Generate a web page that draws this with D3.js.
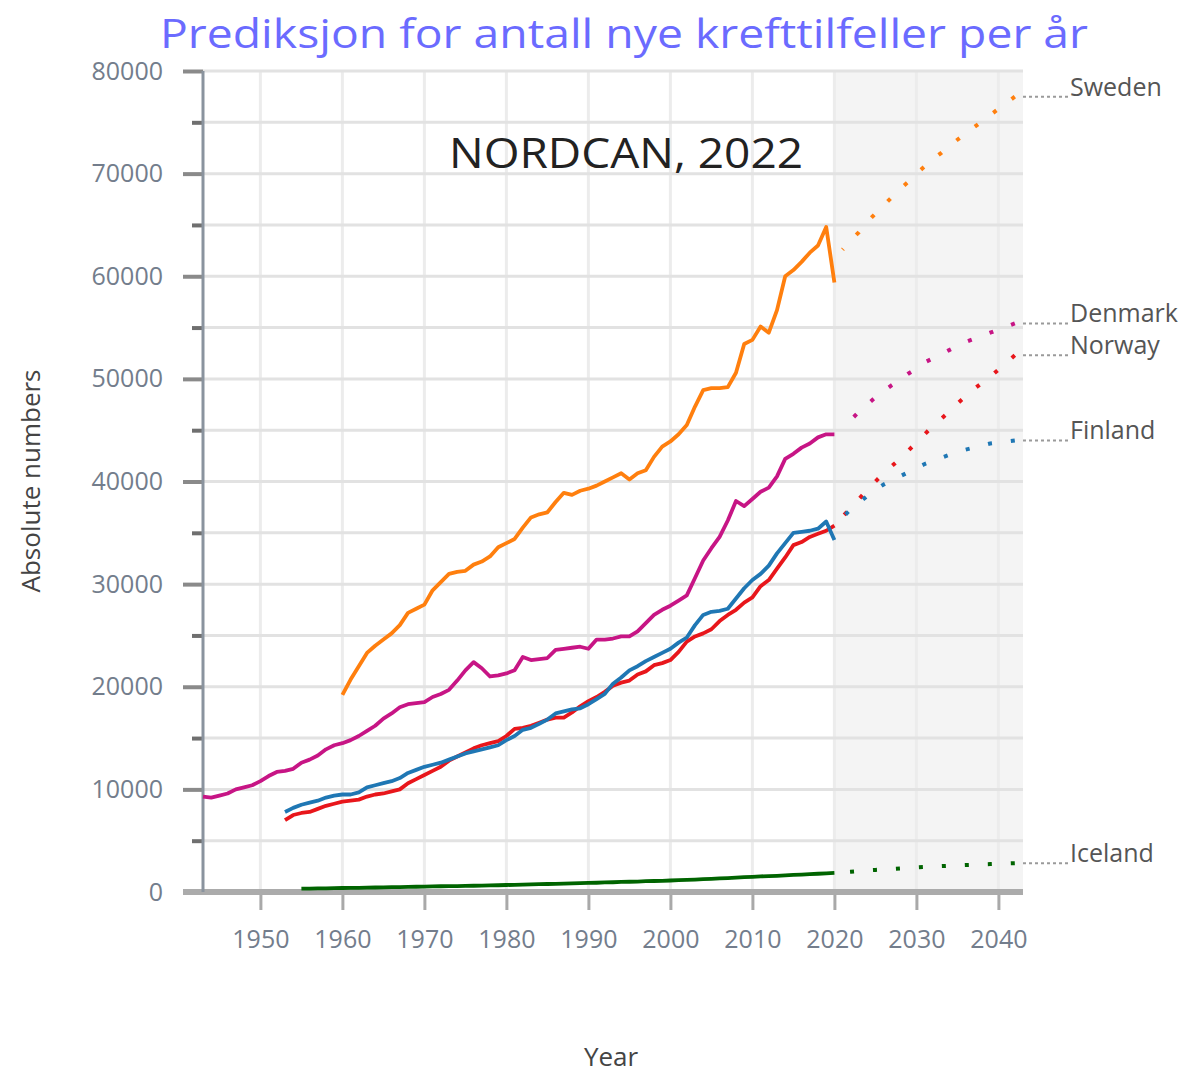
<!DOCTYPE html>
<html>
<head>
<meta charset="utf-8">
<script src="https://cdn.jsdelivr.net/npm/d3@7"></script>
<style>
  body { margin: 0; background: #fff; }
  svg { display: block; font-family: "Open Sans", sans-serif; }
</style>
</head>
<body>
<svg id="chart" width="1187" height="1076"></svg>
<script>
// Observed cases (NORDCAN), one value per year from the start year
const swedenStart = 1960;
const sweden = [19200, 20700, 22000, 23300, 24000, 24600, 25200, 26000, 27200, 27600,
    28000, 29400, 30200, 31000, 31200, 31300, 31900, 32200, 32700, 33600,
    34000, 34400, 35500, 36500, 36800, 37000, 38000, 38900, 38700, 39100,
    39300, 39600, 40000, 40400, 40800, 40200, 40800, 41100, 42400, 43400,
    43900, 44600, 45500, 47300, 48900, 49100, 49100, 49200, 50600, 53400,
    53800, 55100, 54500, 56700, 60000, 60600, 61400, 62300, 63000, 64800,
    59400];

const denmarkStart = 1943;
const denmark = [9300, 9200, 9400, 9600, 10000, 10200, 10400,
    10800, 11300, 11700, 11800, 12000, 12600, 12900, 13300, 13900, 14300,
    14500, 14800, 15200, 15700, 16200, 16900, 17400, 18000, 18300, 18400,
    18500, 19000, 19300, 19700, 20600, 21600, 22400, 21800, 21000, 21100,
    21300, 21600, 22900, 22600, 22700, 22800, 23600, 23700, 23800, 23900,
    23700, 24600, 24600, 24700, 24900, 24900, 25400, 26200, 27000, 27500,
    27900, 28400, 28900, 30600, 32300, 33500, 34600, 36200, 38100, 37600,
    38300, 39000, 39400, 40500, 42200, 42700, 43300, 43700, 44300, 44600,
    44600];

const norwayStart = 1953;
const norway = [7000, 7500, 7700, 7800, 8100, 8400, 8600,
    8800, 8900, 9000, 9300, 9500, 9600, 9800, 10000, 10600, 11000,
    11400, 11800, 12200, 12800, 13200, 13600, 14000, 14300, 14500, 14700,
    15200, 15900, 16000, 16200, 16500, 16800, 17000, 17000, 17500, 18100,
    18600, 19000, 19500, 20100, 20400, 20600, 21200, 21500, 22100, 22300,
    22600, 23400, 24400, 24900, 25200, 25600, 26400, 27000, 27500, 28200,
    28700, 29800, 30400, 31500, 32600, 33800, 34100, 34600, 34900, 35200,
    35700];

const finlandStart = 1953;
const finland = [7800, 8200, 8500, 8700, 8900, 9200, 9400,
    9500, 9500, 9700, 10200, 10400, 10600, 10800, 11100, 11600, 11900,
    12200, 12400, 12600, 12900, 13200, 13500, 13700, 13900, 14100, 14300,
    14800, 15200, 15800, 16000, 16400, 16800, 17400, 17600, 17800, 17900,
    18300, 18800, 19300, 20300, 20900, 21600, 22000, 22500, 22900, 23300,
    23700, 24300, 24800, 26000, 27000, 27300, 27400, 27600, 28600, 29600,
    30400, 31000, 31800, 33000, 34000, 35000, 35100, 35200, 35400, 36100,
    34300];

const icelandStart = 1955;
const iceland = [320, 330, 350, 360, 370,
    390, 400, 410, 430, 440, 460, 470, 480, 500, 510,
    530, 540, 560, 570, 580, 600, 610, 630, 640, 660,
    680, 700, 720, 740, 760, 780, 800, 820, 840, 860,
    880, 900, 930, 950, 980, 1000, 1020, 1050, 1070, 1090,
    1120, 1150, 1180, 1210, 1250, 1280, 1320, 1360, 1400, 1440,
    1480, 1520, 1550, 1580, 1620, 1660, 1700, 1740, 1780, 1820,
    1860];

// Predictions, one value per year from 2021
const projStart = 2021;
const swedenProj = [62600, 63500, 64300, 65300, 66100, 66900, 67700, 68500, 69200, 70000, 70700,
    71400, 72000, 72700, 73300, 73900, 74500, 75100, 75700, 76300, 76900, 77500];
const denmarkProj = [45300, 46000, 46800, 47500, 48200, 48800, 49400, 49900, 50500, 51000, 51600,
    52000, 52400, 52800, 53200, 53600, 53900, 54200, 54500, 54800, 55100, 55400];
const norwayProj = [36600, 37400, 38300, 39200, 40000, 40800, 41500, 42200, 43000, 43800, 44600,
    45400, 46100, 46800, 47600, 48300, 49000, 49600, 50200, 50900, 51600, 52300];
const finlandProj = [36500, 37300, 37900, 38600, 39200, 39700, 40100, 40500, 40900, 41300, 41700,
    42000, 42300, 42600, 42900, 43100, 43300, 43500, 43700, 43800, 43900, 44000];
const icelandProj = [1920, 1980, 2040, 2100, 2150, 2200, 2250, 2300, 2350, 2400, 2440,
    2480, 2520, 2560, 2600, 2630, 2660, 2690, 2720, 2750, 2780, 2810];

const countries = ["Sweden", "Denmark", "Norway", "Finland", "Iceland"];
const xTicks = [1950, 1960, 1970, 1980, 1990, 2000, 2010, 2020, 2030, 2040];
const yTicks = [0, 10000, 20000, 30000, 40000, 50000, 60000, 70000, 80000];
const yMinorTicks = [5000, 15000, 25000, 35000, 45000, 55000, 65000, 75000];
const forecastFrom = 2020;

const series = [
    { name: "Sweden", start: swedenStart, obs: sweden, proj: swedenProj },
    { name: "Denmark", start: denmarkStart, obs: denmark, proj: denmarkProj },
    { name: "Norway", start: norwayStart, obs: norway, proj: norwayProj },
    { name: "Finland", start: finlandStart, obs: finland, proj: finlandProj },
    { name: "Iceland", start: icelandStart, obs: iceland, proj: icelandProj }
].map(s => ({
    name: s.name,
    obs: s.obs.map((v, i) => [s.start + i, v]),
    proj: s.proj.map((v, i) => [projStart + i, v])
}));

const color = d3.scaleOrdinal()
    .domain(countries)
    .range(["#ff7f0e", "#c71585", "#e8161b", "#1f77b4", "#006400"]);

const svg = d3.select("#chart");
const x = d3.scaleLinear().domain([1943, 2043]).range([203, 1023]);
const y = d3.scaleLinear().domain([0, 80000]).range([892, 71]);

// shaded prediction period
svg.append("rect")
    .attr("x", x(forecastFrom))
    .attr("y", y(80000))
    .attr("width", x(2043) - x(forecastFrom))
    .attr("height", y(0) - y(80000))
    .attr("fill", "#f4f4f4");

// grid
svg.append("g")
    .selectAll("line")
    .data(xTicks)
    .join("line")
    .attr("x1", d => x(d)).attr("x2", d => x(d))
    .attr("y1", y(80000)).attr("y2", y(0))
    .attr("stroke", "#ececec")
    .attr("stroke-width", 3);

svg.append("g")
    .selectAll("line")
    .data(yTicks.concat(yMinorTicks))
    .join("line")
    .attr("x1", x(1943)).attr("x2", x(2043))
    .attr("y1", d => y(d)).attr("y2", d => y(d))
    .attr("stroke", "#e2e2e2")
    .attr("stroke-width", 3);

// axes
const yAxis = svg.append("g")
    .attr("transform", `translate(${x(1943)},0)`)
    .call(d3.axisLeft(y).tickValues(yTicks).tickSize(20).tickPadding(20).tickFormat(d3.format("d")));
yAxis.select(".domain").remove();
yAxis.selectAll(".tick line").attr("stroke", "#8a8a8a").attr("stroke-width", 4);
yAxis.selectAll(".tick text")
    .attr("fill", "#737d8c")
    .style("font-size", "25px")
    .style("font-family", "Open Sans");

const yMinor = svg.append("g")
    .attr("transform", `translate(${x(1943)},0)`)
    .call(d3.axisLeft(y).tickValues(yMinorTicks).tickSize(11).tickFormat(""));
yMinor.select(".domain").remove();
yMinor.selectAll(".tick line").attr("stroke", "#6f6f6f").attr("stroke-width", 4);

const xAxis = svg.append("g")
    .attr("transform", `translate(0,${y(0)})`)
    .call(d3.axisBottom(x).tickValues(xTicks).tickSize(18).tickPadding(20).tickFormat(d3.format("d")));
xAxis.select(".domain").remove();
xAxis.selectAll(".tick line").attr("stroke", "#a9a9a9").attr("stroke-width", 3);
xAxis.selectAll(".tick text")
    .attr("fill", "#737d8c")
    .style("font-size", "25px")
    .style("font-family", "Open Sans");

svg.append("line")
    .attr("x1", x(1943) - 20).attr("x2", x(2043))
    .attr("y1", y(0)).attr("y2", y(0))
    .attr("stroke", "#ababab")
    .attr("stroke-width", 6);

svg.append("line")
    .attr("x1", x(1943)).attr("x2", x(1943))
    .attr("y1", y(80000)).attr("y2", y(0))
    .attr("stroke", "#8a939e")
    .attr("stroke-width", 3);

// lines
const line = d3.line().x(d => x(d[0])).y(d => y(d[1]));

svg.append("g")
    .selectAll("path")
    .data(series)
    .join("path")
    .attr("d", d => line(d.obs))
    .attr("fill", "none")
    .attr("stroke", d => color(d.name))
    .attr("stroke-width", 3.8)
    .attr("stroke-linejoin", "round");

// dotted predictions, pattern aligned so a dot sits at the end of each line
const dashLen = 4, dashPeriod = 23;
svg.append("g")
    .selectAll("path")
    .data(series)
    .join("path")
    .attr("d", d => line(d.proj))
    .attr("fill", "none")
    .attr("stroke", d => color(d.name))
    .attr("stroke-width", 4)
    .attr("stroke-dasharray", `${dashLen},${dashPeriod - dashLen}`)
    .attr("stroke-dashoffset", function() {
        const L = this.getTotalLength();
        return dashPeriod - ((L - dashLen) % dashPeriod);
    });

// labels at the right
const labels = svg.append("g")
    .selectAll("g")
    .data(series)
    .join("g");

labels.append("line")
    .attr("x1", x(2043)).attr("x2", 1068)
    .attr("y1", d => y(d.proj[d.proj.length - 1][1]))
    .attr("y2", d => y(d.proj[d.proj.length - 1][1]))
    .attr("stroke", "#9a9a9a")
    .attr("stroke-width", 2)
    .attr("stroke-dasharray", "3,3");

labels.append("text")
    .attr("x", 1070)
    .attr("y", d => y(d.proj[d.proj.length - 1][1]) - 1)
    .attr("fill", "#555")
    .style("font-size", "25px")
    .text(d => d.name);

// titles
svg.append("text")
    .attr("x", 160).attr("y", 48)
    .attr("textLength", 928)
    .attr("lengthAdjust", "spacingAndGlyphs")
    .attr("fill", "#6b6bff")
    .style("font-size", "41px")
    .text("Prediksjon for antall nye krefttilfeller per år");

svg.append("text")
    .attr("x", 449).attr("y", 168)
    .attr("textLength", 354)
    .attr("lengthAdjust", "spacingAndGlyphs")
    .attr("fill", "#222")
    .style("font-size", "42px")
    .text("NORDCAN, 2022");

svg.append("text")
    .attr("transform", "translate(40,481) rotate(-90)")
    .attr("text-anchor", "middle")
    .attr("fill", "#444")
    .style("font-size", "26px")
    .text("Absolute numbers");

svg.append("text")
    .attr("x", 611).attr("y", 1066)
    .attr("text-anchor", "middle")
    .attr("fill", "#444")
    .style("font-size", "26px")
    .text("Year");
</script>
</body>
</html>
